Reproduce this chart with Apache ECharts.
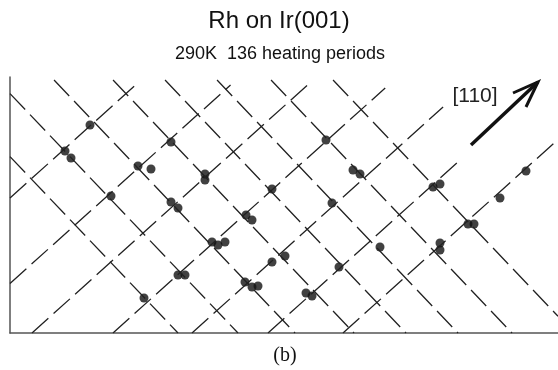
<!DOCTYPE html>
<html>
<head>
<meta charset="utf-8">
<script src="https://cdn.jsdelivr.net/npm/echarts@6/dist/echarts.min.js"></script>
<style>
  html, body { margin: 0; padding: 0; background: #fff; }
  #chart { width: 558px; height: 370px; }
</style>
</head>
<body>
<div id="chart"></div>
<script>
// plot units: x 0..548 to the right, y 0..256 upwards
const X_MAX = 548
const Y_MAX = 256

// adatom positions
const dotX = [80, 55, 61, 101, 128, 141, 161, 195, 195, 161, 168, 236, 242, 202, 208, 215, 262, 316, 343, 350,
  322, 275, 262, 235, 242, 248, 168, 175, 134, 296, 302, 329, 370, 423, 430, 430, 430, 458, 464, 490, 516]
const dotY = [208, 182, 175, 137, 167, 164, 191, 159, 153, 131, 125, 118, 113, 91, 88, 91, 144, 193, 163, 159,
  130, 77, 71, 51, 46, 47, 58, 58, 35, 40, 37, 66, 86, 146, 149, 90, 83, 109, 109, 135, 162]

// rising [110] lines: where they cross y = 0, and where they stop
const riseSlope = 0.9
const riseX0 = [-150, -55, 22, 103, 182, 258, 333]
const riseTop = [248, 248, 249, 245, 226, 173, 250]

// falling lines: where they cross y = 0
const fallSlope = 1.05
const fallX0 = [168, 228, 285, 344, 396, 448, 502, 564]
const fallTop = 253

// [110] arrow
const arrowShaft = [[461, 188], [528, 251]]
const arrowHead = [[503, 240], [528, 251], [516, 226]]

function riseLine(a, top) {
  const p1 = a >= 0 ? [a, 0] : [0, -riseSlope * a]
  let x2 = a + top / riseSlope
  const p2 = x2 > X_MAX ? [X_MAX, riseSlope * (X_MAX - a)] : [x2, top]
  return [p1, p2]
}

function fallLine(b) {
  let x1 = b - fallTop / fallSlope
  const p1 = x1 < 0 ? [0, fallSlope * b] : [x1, fallTop]
  const p2 = b > X_MAX ? [X_MAX, fallSlope * (b - X_MAX)] : [b, 0]
  return [p1, p2]
}

const dashStyle = { color: '#222', width: 1.3, type: [22, 7] }
const series = []
riseX0.forEach(function(a, i) {
  series.push({ type: 'line', data: riseLine(a, riseTop[i]), symbol: 'none', lineStyle: dashStyle, silent: true })
})
fallX0.forEach(function(b) {
  series.push({ type: 'line', data: fallLine(b), symbol: 'none', lineStyle: dashStyle, silent: true })
})
series.push({ type: 'line', data: arrowShaft, symbol: 'none', lineStyle: { color: '#111', width: 3.5 } })
series.push({ type: 'line', data: arrowHead, symbol: 'none', lineStyle: { color: '#111', width: 3, join: 'miter' } })
series.push({
  type: 'scatter',
  data: dotX.map(function(x, i) { return [x, dotY[i]] }),
  symbolSize: 9,
  itemStyle: { color: '#111' }
})

const chart = echarts.init(document.getElementById('chart'))
chart.setOption({
  animation: false,
  grid: { left: 10, right: 0, top: 77, bottom: 37 },
  xAxis: {
    type: 'value', min: 0, max: X_MAX,
    axisLine: { show: true, lineStyle: { color: '#555', width: 1.5 } },
    axisTick: { show: false }, axisLabel: { show: false }, splitLine: { show: false }
  },
  yAxis: {
    type: 'value', min: 0, max: Y_MAX,
    axisLine: { show: true, lineStyle: { color: '#555', width: 1.5 } },
    axisTick: { show: false }, axisLabel: { show: false }, splitLine: { show: false }
  },
  graphic: [
    { type: 'text', x: 279, y: 21, style: { text: 'Rh on Ir(001)', font: '24px "Liberation Sans"', fill: '#111', align: 'center', verticalAlign: 'middle' } },
    { type: 'text', x: 280, y: 54, style: { text: '290K  136 heating periods', font: '18px "Liberation Sans"', fill: '#111', align: 'center', verticalAlign: 'middle' } },
    { type: 'text', x: 475, y: 96, style: { text: '[110]', font: '21px "Liberation Sans"', fill: '#222', align: 'center', verticalAlign: 'middle' } },
    { type: 'text', x: 285, y: 356, style: { text: '(b)', font: '20px "Liberation Serif"', fill: '#111', align: 'center', verticalAlign: 'middle' } }
  ],
  series: series
})
</script>
</body>
</html>
